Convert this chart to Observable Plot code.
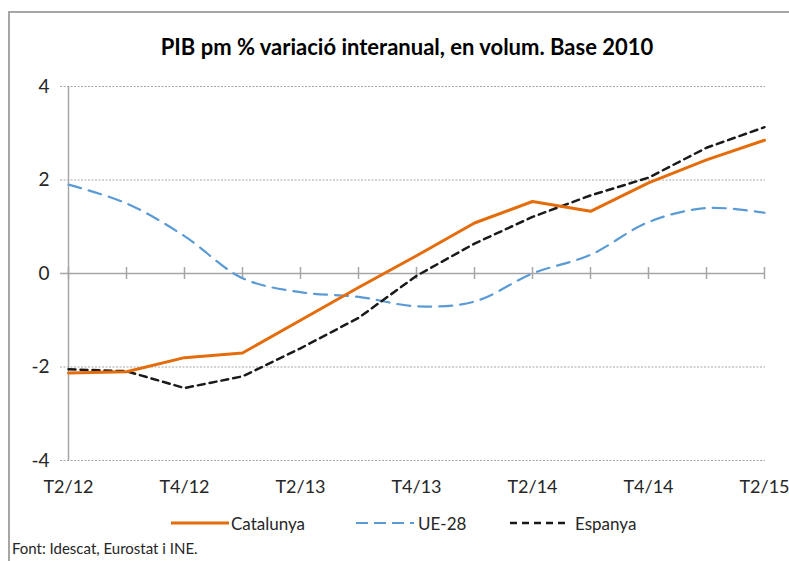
<!DOCTYPE html>
<html>
<head>
<meta charset="utf-8">
<script src="https://cdn.jsdelivr.net/npm/d3@7"></script>
<script src="https://cdn.jsdelivr.net/npm/@observablehq/plot@0.6"></script>
<style>
  html, body { margin: 0; padding: 0; background: #fff; }
  body { width: 789px; height: 561px; position: relative; overflow: hidden; font-family: Lato, "Open Sans", sans-serif; color: #262626; }
  #frame { position: absolute; left: 8px; top: 11px; width: 800px; height: 560px; border-left: 2px solid #a6a6a6; border-top: 2px solid #a6a6a6; }
  #title { position: relative; height: 70px; box-sizing: border-box; padding-top: 34px; margin-left: 25px; width: 764px; text-align: center; font-weight: bold; font-size: 22px; line-height: 26px; color: #000; }
  #chart { position: relative; height: 440px; }
  #legend { position: relative; height: 26px; font-size: 17px; }
  #legend .item { position: absolute; top: 0; height: 26px; display: flex; align-items: center; }
  #legend svg { display: block; }
  #caption { position: relative; height: 25px; padding-left: 12px; font-size: 15px; line-height: 25px; }
</style>
</head>
<body>
<div id="frame"></div>
<div id="title">PIB pm % variació interanual, en volum. Base 2010</div>
<div id="chart"></div>
<div id="legend"></div>
<div id="caption">Font: Idescat, Eurostat i INE.</div>
<script>
const quarters = ["T2/12","T3/12","T4/12","T1/13","T2/13","T3/13","T4/13","T1/14","T2/14","T3/14","T4/14","T1/15","T2/15"];
const tickLabels = ["T2/12","T4/12","T2/13","T4/13","T2/14","T4/14","T2/15"];
const yTicks = [-4, -2, 0, 2, 4];
const gridValues = [-4, -2, 2, 4];
const catalunya = [-2.13, -2.1, -1.8, -1.7, -1.0, -0.3, 0.38, 1.08, 1.54, 1.33, 1.94, 2.43, 2.85];
const ue28 = [1.9, 1.5, 0.8, -0.1, -0.4, -0.5, -0.7, -0.6, 0.0, 0.4, 1.1, 1.4, 1.3];
const espanya = [-2.05, -2.09, -2.45, -2.2, -1.6, -0.95, -0.05, 0.64, 1.21, 1.67, 2.05, 2.69, 3.13];
const seriesNames = ["Catalunya", "UE-28", "Espanya"];

const toRows = (vals) => quarters.map((q, i) => ({q, v: vals[i]}));
const rowsCat = toRows(catalunya);
const rowsUe = toRows(ue28);
const rowsEs = toRows(espanya);

const colors = {"Catalunya": "#E46C0A", "UE-28": "#5B9BD5", "Espanya": "#1a1a1a"};

const chart = Plot.plot({
  width: 789,
  height: 440,
  marginLeft: 67,
  marginRight: 24,
  marginTop: 16,
  marginBottom: 50,
  style: {fontFamily: "Lato, 'Open Sans', sans-serif", fontSize: "18px", color: "#262626", background: "transparent", overflow: "visible"},
  x: {type: "point", domain: quarters, padding: 0, label: null},
  y: {domain: [-4, 4], label: null},
  marks: [
    Plot.ruleY(gridValues, {stroke: "#a6a6a6", strokeWidth: 1, strokeDasharray: "2,1.5", insetLeft: -7}),
    Plot.ruleX([quarters[0]], {stroke: "#a6a6a6", strokeWidth: 1.5}),
    Plot.ruleY([0], {stroke: "#a6a6a6", strokeWidth: 1.5, insetLeft: -7}),
    Plot.ruleX(quarters, {x: d => d, y1: 0, y2: 0, insetTop: -6, insetBottom: -6, stroke: "#a6a6a6", strokeWidth: 1.5}),
    Plot.line(rowsUe, {x: "q", y: "v", stroke: colors["UE-28"], strokeWidth: 2.2, strokeDasharray: "13,8", curve: "catmull-rom"}),
    Plot.line(rowsEs, {x: "q", y: "v", stroke: colors["Espanya"], strokeWidth: 2.5, strokeDasharray: "7,5"}),
    Plot.line(rowsCat, {x: "q", y: "v", stroke: colors["Catalunya"], strokeWidth: 3}),
    Plot.axisX({ticks: tickLabels, tickSize: 0, tickPadding: 20, anchor: "bottom", fontSize: 18, label: null}),
    Plot.axisY({ticks: yTicks, tickSize: 0, tickPadding: 18, anchor: "left", fontSize: 19, label: null, tickFormat: d => String(d)})
  ]
});
document.getElementById("chart").appendChild(chart);

// Legend
const legend = document.getElementById("legend");
const legendItems = [
  {name: seriesNames[0], left: 171, dash: null, width: 3},
  {name: seriesNames[1], left: 356, dash: "12,6", width: 2},
  {name: seriesNames[2], left: 510, dash: "7,5", width: 2.5}
];
const gaps = [2, 4, 7];
legendItems.forEach((it, k) => {
  const div = document.createElement("div");
  div.className = "item";
  div.style.left = it.left + "px";
  const ns = "http://www.w3.org/2000/svg";
  const s = document.createElementNS(ns, "svg");
  s.setAttribute("width", 58);
  s.setAttribute("height", 10);
  const l = document.createElementNS(ns, "line");
  l.setAttribute("x1", 0); l.setAttribute("x2", 58);
  l.setAttribute("y1", 5); l.setAttribute("y2", 5);
  l.setAttribute("stroke", colors[it.name]);
  l.setAttribute("stroke-width", it.width);
  if (it.dash) l.setAttribute("stroke-dasharray", it.dash);
  s.appendChild(l);
  const t = document.createElement("span");
  t.textContent = it.name;
  t.style.marginLeft = gaps[k] + "px";
  div.appendChild(s);
  div.appendChild(t);
  legend.appendChild(div);
});
</script>
</body>
</html>
